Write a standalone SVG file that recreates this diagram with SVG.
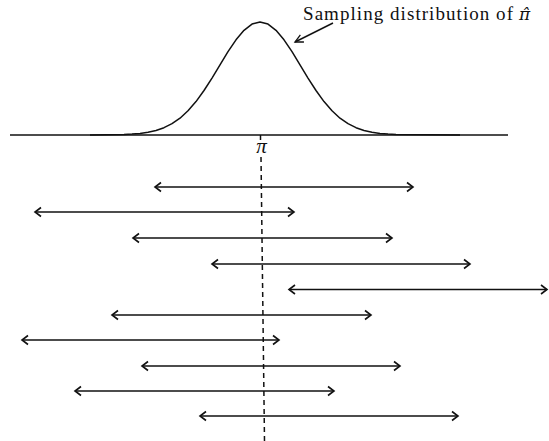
<svg xmlns="http://www.w3.org/2000/svg" width="549" height="441" viewBox="0 0 549 441">
  <style>
    .ln { stroke: #111; stroke-width: 1.5; fill: none; }
    .iv { stroke: #111; stroke-width: 1.6; fill: none; marker-start: url(#ah); marker-end: url(#ah); }
    .lbl { font-family: "Liberation Serif", "Times New Roman", serif; fill: #111; }
  </style>
  <defs>
    <marker id="ah" viewBox="-8 -6 10 12" refX="0" refY="0" markerWidth="10" markerHeight="12" markerUnits="userSpaceOnUse" orient="auto-start-reverse">
      <path d="M-6,-4.5 L0,0 L-6,4.5" fill="none" stroke="#111" stroke-width="1.6" stroke-linejoin="miter"/>
    </marker>
    <marker id="ph" viewBox="-10 -6 12 12" refX="0" refY="0" markerWidth="12" markerHeight="12" markerUnits="userSpaceOnUse" orient="auto">
      <path d="M-8,-4 L0,0 L-8,4" fill="none" stroke="#111" stroke-width="1.3"/>
    </marker>
  </defs>

  <g id="axis">
    <line class="ln" x1="10" y1="135" x2="508" y2="135" stroke-width="1.4"/>
    <line class="ln" x1="260.5" y1="135" x2="260.5" y2="140" stroke-width="1.3"/>
    <text class="lbl" x="261.5" y="153" font-size="21" font-style="italic" text-anchor="middle">π</text>
  </g>

  <g id="curve">
    <path class="ln" stroke-width="2" stroke-linejoin="round" d="M90,135 L124,134.5 L132,134.1 L140,133.4 L148,132.3 L156,130.5 L164,127.7 L172,123.7 L180,118.2 L188,110.8 L196,101.6 L204,90.5 L212,78.1 L220,64.8 L228,51.7 L236,39.8 L244,30.3 L252,24.1 L260,22 L268,24.1 L276,30.3 L284,39.8 L292,51.7 L300,64.8 L308,78.1 L316,90.5 L324,101.6 L332,110.8 L340,118.2 L348,123.7 L356,127.7 L364,130.5 L372,132.3 L380,133.4 L388,134.1 L396,134.5 L460,135"/>
  </g>

  <g id="label">
    <text class="lbl" x="303" y="20" font-size="19" textLength="210" lengthAdjust="spacing">Sampling distribution of</text>
    <text x="519" y="20" font-size="17" font-style="italic" font-family="'DejaVu Serif', serif" fill="#111">π̂</text>
    <line class="ln" x1="333" y1="23" x2="295" y2="42" stroke-width="1.3" marker-end="url(#ph)"/>
  </g>

  <g id="true-value">
    <line class="ln" x1="261" y1="157" x2="264.5" y2="441" stroke-width="1.6" stroke-dasharray="5,4"/>
  </g>

  <g id="intervals">
    <line id="ci1" class="iv" x1="155" y1="187" x2="413" y2="187"/>
    <line id="ci2" class="iv" x1="35" y1="212" x2="294" y2="212"/>
    <line id="ci3" class="iv" x1="133" y1="238" x2="392" y2="238"/>
    <line id="ci4" class="iv" x1="212" y1="264" x2="470" y2="264"/>
    <line id="ci5" class="iv" x1="289" y1="289.5" x2="547" y2="289.5"/>
    <line id="ci6" class="iv" x1="112" y1="315" x2="371" y2="315"/>
    <line id="ci7" class="iv" x1="22" y1="340" x2="279" y2="340"/>
    <line id="ci8" class="iv" x1="142" y1="366" x2="400" y2="366"/>
    <line id="ci9" class="iv" x1="75" y1="391" x2="334" y2="391"/>
    <line id="ci10" class="iv" x1="200" y1="416" x2="458" y2="416"/>
  </g>
</svg>
